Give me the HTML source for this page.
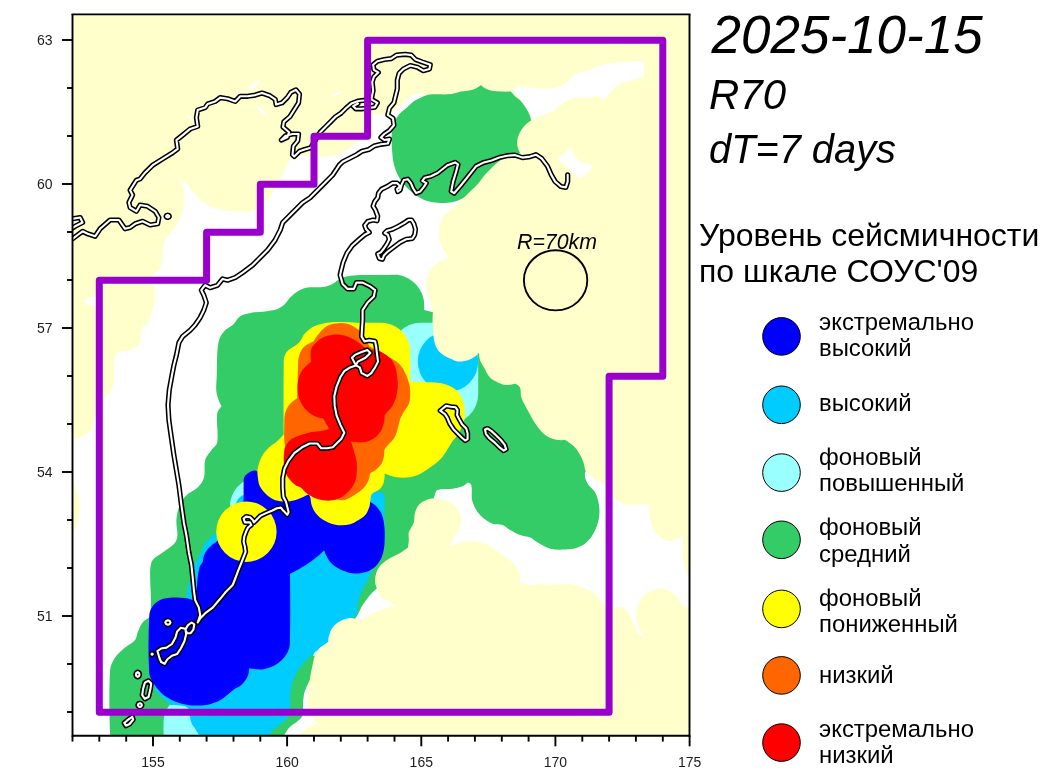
<!DOCTYPE html>
<html lang="ru"><head><meta charset="utf-8"><title>2025-10-15 R70</title>
<style>
html,body{margin:0;padding:0;background:#fff;}
body{width:1042px;height:779px;overflow:hidden;}
svg{display:block;font-family:"Liberation Sans",Arial,sans-serif;}
.tk{font-size:14px;fill:#1c1c1c;}
.lg{font-size:23.9px;fill:#000;}
.ttl{font-style:italic;fill:#000;}
</style></head><body>
<svg width="1042" height="779" viewBox="0 0 1042 779">
<rect width="1042" height="779" fill="#fff"/>
<defs><clipPath id="mc"><rect x="72.5" y="14" width="617.0" height="721.5"/></clipPath></defs>
<g clip-path="url(#mc)">
<rect x="72.5" y="14" width="617.0" height="721.5" fill="#ffffcc"/>
<path d="M167.5 170 C170.4 171.9 176.1 175.7 180.1 178.8 C183.6 181.5 187.1 184.4 190.1 187.6 C193.3 191.1 195.3 195.6 198.8 198.8 C202.1 201.9 206.0 204.4 210.1 206.3 C214.8 208.4 220.0 209.7 225.1 210.6 C230.0 211.5 235.1 211.9 240.1 211.8 C245.1 211.7 250.4 212.0 255.1 210.1 C259.5 208.3 263.1 204.8 266.4 201.3 C269.9 197.6 272.5 193.2 275.1 188.8 C277.5 184.8 279.3 180.5 281.4 176.3 C283.9 171.3 286.1 166.1 288.9 161.3 C290.3 159.0 292.7 156.3 293.9 155 L317 156.2 C319.0 156.4 323.1 156.8 326.2 156.7 C329.3 156.6 332.4 156.3 335.4 155.5 C338.6 154.6 341.8 153.2 344.7 151.6 C347.5 150.1 349.8 148.0 352.4 146.2 C355.0 144.4 357.4 142.4 360.1 140.8 C362.0 139.6 364.8 138.3 366.2 137.7 L370.9 115.4 C372.6 115.2 376.0 114.9 378.6 114.6 C381.2 114.4 383.7 114.2 386.3 113.9 C387.8 113.7 389.5 113.7 390.9 113.1 C393.1 112.2 395.1 110.8 397 109.3 C399.3 107.5 401.1 105.2 403.2 103.1 C405.3 101.0 407.1 98.7 409.4 96.9 C410.7 95.8 412.4 95.2 414 94.6 C415.5 94.1 417.0 93.6 418.6 93.6 C421.1 93.6 424.4 94.3 426 94.6 L440 110 L440 150 L464.7 197 L470 205 L470 330 L230 330 L230 735.5 L72.5 735.5 L72.6 533.9 C73.9 531.5 76.5 526.7 77.6 522.7 C78.9 517.8 79.6 512.7 79.6 507.6 C79.6 502.6 79.0 497.5 77.6 492.6 C76.6 489.0 73.9 484.7 72.6 482.6 L72.6 439.6 C73.2 439.4 74.3 439.1 75.1 438.8 C78.4 437.6 82.1 437.0 85.1 435.1 C88.1 433.2 90.8 430.7 92.6 427.6 C94.3 424.6 93.9 420.8 95.1 417.6 C97.3 411.6 99.3 405.5 102.6 400 C104.4 397.0 108.4 395.6 110.1 392.5 C112.2 388.7 113.4 384.3 113.9 380 C114.7 373.4 113.9 366.7 113.9 360 C113.9 359.9 113.9 360.3 113.9 360.2 C115.2 357.7 115.2 354.2 117.6 352.7 C121.2 350.5 126.2 351.9 130.1 350.2 C133.9 348.5 138.1 346.3 140.1 342.7 C142.2 339.1 139.9 334.1 141.4 330.2 C142.5 327.1 146.0 325.4 147.6 322.6 C149.8 318.7 151.4 314.4 152.7 310.1 C153.9 306.0 155.0 301.8 155.2 297.6 C155.4 293.4 154.4 289.3 153.9 285.1 C153.6 282.2 151.7 279.1 152.7 276.3 C154.0 272.7 158.6 271.1 160.2 267.6 C162.0 263.8 161.9 259.3 162.7 255.1 C163.6 250.1 163.1 244.7 165.2 240.1 C167.4 235.2 172.5 232.1 175.2 227.5 C178.4 222.0 181.1 216.1 182.7 210 C184.0 205.2 184.3 200.0 183.9 195 C183.5 189.9 183.0 184.3 180.2 180 C177.2 175.5 170.7 171.8 167.5 170Z" fill="#ffffff"/>
<path d="M83 301.5 C84.5 300.5 87.5 298.4 90 297.5 C92.2 296.7 95.4 296.6 97 296.5 L97 307 C95.4 306.8 92.2 306.4 90 305.5 C87.5 304.5 84.5 302.5 83 301.5Z" fill="#ffffff"/>
<path d="M186.4 115.1 C187.6 115.4 190.0 116.0 191.4 117.1 C193.2 118.6 194.9 121.3 195.7 122.6 C195.0 122.2 193.6 121.4 192.7 120.6 C190.5 118.9 187.8 116.4 186.4 115.1Z" fill="#ffffff"/>
<path d="M246.3 89.3 C247.6 88.0 250.2 85.3 252.5 83.8 C254.8 82.2 258.3 80.8 260 80.1 C259.6 81.3 258.8 83.7 257.5 85.1 C255.8 87.0 253.7 88.7 251.3 89.6 C249.7 90.2 247.4 89.6 246.3 89.3Z" fill="#ffffff"/>
<path d="M255 103.9 C256.5 104.7 259.5 106.3 261.3 108.1 C263.7 110.5 266.2 114.4 267.5 116.4 C266.0 115.7 263.0 114.3 261.3 112.6 C258.8 110.1 256.3 106.0 255 103.9Z" fill="#ffffff"/>
<path d="M331.3 95.6 C332.7 94.8 335.4 93.3 337.6 92.6 C339.2 92.1 341.5 92.1 342.6 92.1 C341.6 92.9 339.5 94.5 337.6 95.1 C335.6 95.7 332.7 95.6 331.3 95.6Z" fill="#ffffff"/>
<path d="M511.3 91.6 C513.1 90.1 516.7 87.0 520 86.3 C523.3 85.6 526.7 87.2 530.1 87.6 C534.3 88.1 538.4 88.8 542.6 88.8 C546.8 88.8 551.0 88.5 555.1 87.6 C558.6 86.8 562.1 85.7 565.1 83.8 C567.6 82.3 569.2 79.7 571.3 77.6 C572.6 76.3 574.3 74.6 575.1 73.8 C577.3 73.3 581.8 72.3 585.1 71.3 C588.5 70.2 591.8 68.8 595.1 67.6 C598.4 66.3 601.6 64.5 605.1 63.8 C610.0 62.8 615.1 63.0 620.1 62.6 C625.1 62.2 630.2 61.6 635.2 61.3 C638.1 61.1 642.0 61.2 643.9 61.3 L643.9 77.6 C643.1 77.5 641.4 77.3 640.2 77.6 C636.8 78.5 633.6 80.3 630.2 81.3 C626.9 82.3 623.2 82.2 620.1 83.8 C617.2 85.3 614.9 87.8 612.6 90.1 C609.9 92.8 607.8 96.1 605.1 98.8 C604.4 99.5 603.2 99.9 602.6 100.1 C601.6 98.9 599.7 96.6 597.6 96.3 C594.3 95.7 591.0 97.4 587.6 97.6 C584.3 97.8 580.9 97.2 577.6 97.6 C574.2 98.0 570.7 98.6 567.6 100.1 C563.9 102.0 561.0 105.2 557.6 107.6 C555.2 109.3 552.8 111.3 550.1 112.6 C547.7 113.8 545.0 114.1 542.6 115.1 C538.7 116.7 533.8 119.3 531.3 120.6 C530.6 118.2 529.2 113.4 527.5 110.1 C525.4 106.1 523.0 102.2 520 98.8 C517.5 96.0 513.4 93.1 511.3 91.6Z" fill="#ffffff"/>
<path d="M557.6 158.9 C559.0 157.8 561.8 155.7 563.8 153.9 C566.0 151.9 568.7 149.0 570.1 147.6 C571.0 149.7 572.9 153.8 575.1 156.4 C577.2 158.9 579.6 161.3 582.6 162.7 C586.1 164.3 591.3 164.9 593.9 165.2 C592.6 166.9 589.9 170.4 587.6 172.7 C585.3 175.0 581.8 177.6 580.1 178.9 C578.4 177.6 575.0 174.9 572.6 172.7 C570.0 170.3 567.7 167.6 565.1 165.2 C562.7 163.0 559.3 160.3 557.6 158.9Z" fill="#ffffff"/>
<polygon points="400,470 689.5,470 689.5,660 400,660" fill="#ffffff" />
<polygon points="275,700 330,700 330,735.5 275,735.5" fill="#ffffff" />
<polygon points="300,670 315,670 315,712 300,712" fill="#ffffff" />
<polygon points="355,585 400,585 400,625 355,625" fill="#ffffff" />
<path d="M391.9 147 C391.6 141.9 391.4 136.7 391.9 131.6 C392.2 128.3 393.1 125.0 394.4 122 C395.6 119.2 397.2 116.6 399.2 114.3 C401.4 111.7 404.3 109.8 406.9 107.5 C409.5 105.3 411.8 102.7 414.6 100.8 C417.0 99.2 419.6 98.0 422.3 96.9 C424.8 95.9 427.3 94.9 430 94.6 C437.0 93.9 444.2 94.8 451.2 94.1 C454.5 93.8 457.6 92.3 460.8 91.6 C464.0 91.0 467.3 90.9 470.5 90.2 C472.5 89.8 474.4 89.2 476.2 88.3 C478.0 87.4 480.1 85.8 481.1 85 C481.9 85.8 483.4 87.5 484.9 88.3 C487.0 89.5 489.3 90.3 491.6 90.8 C494.8 91.4 498.1 91.5 501.3 91.6 C504.5 91.7 508.8 91.6 510.9 91.6 C511.7 92.6 513.3 94.7 514.7 96 C516.5 97.7 518.8 99.0 520.5 100.8 C522.7 103.2 524.6 105.8 526.3 108.5 C527.8 110.9 529.0 113.5 530.1 116.2 C530.6 117.5 530.9 119.4 531.1 120.4 C530.0 121.1 527.7 122.5 526.3 123.9 C524.5 125.6 522.9 127.6 521.5 129.7 C520.1 131.8 519.0 134.0 518.2 136.4 C517.5 138.6 517.1 140.8 517.1 143.1 C517.1 145.1 517.6 147.0 518.2 148.9 C518.7 150.4 519.9 152.3 520.5 153.2 C519.2 153.5 516.6 154.2 514.7 154.7 C513.4 155.0 512.1 155.3 510.9 155.7 C508.3 156.6 505.6 157.2 503.2 158.5 C500.4 160.1 497.9 162.2 495.5 164.3 C493.4 166.1 491.6 168.2 489.7 170.1 C487.8 172.0 485.7 173.8 483.9 175.9 C481.8 178.3 480.3 181.2 478.2 183.6 C475.8 186.3 473.1 188.7 470.5 191.3 C468.6 193.2 466.0 195.7 464.7 197 C463.0 198.0 459.7 200.0 457 200.9 C453.9 201.9 450.6 202.5 447.4 202.8 C444.2 203.1 440.9 203.1 437.7 202.8 C434.5 202.5 431.2 202.2 428.1 201.3 C424.7 200.3 421.5 198.8 418.5 197 C415.7 195.4 413.2 193.4 410.8 191.3 C408.1 188.9 405.3 186.5 403.1 183.6 C400.8 180.6 398.9 177.3 397.3 173.9 C395.6 170.2 394.3 166.4 393.5 162.4 C392.5 157.3 392.2 152.2 391.9 147Z" fill="#33cc66"/>
<path d="M440 313 L432 312 L424.2 310 C424.2 308.0 424.3 304.0 423.9 301 C423.5 298.4 422.9 295.7 421.8 293.3 C420.5 290.5 418.9 287.9 416.9 285.6 C414.7 283.0 412.1 280.7 409.2 278.9 C406.3 277.1 403.0 275.9 399.6 275.2 C396.5 274.6 393.3 275.0 390.2 275 C385.2 275.0 380.1 275.1 375.1 275.1 C370.1 275.1 365.1 274.9 360.1 275.1 C355.9 275.3 351.7 275.5 347.6 276.3 C345.0 276.8 342.5 277.6 340.1 278.8 C337.4 280.2 335.3 282.6 332.6 283.9 C329.4 285.4 326.1 286.6 322.6 287.1 C317.7 287.8 312.5 286.8 307.6 287.6 C304.1 288.2 300.7 289.6 297.6 291.4 C294.8 293.0 292.4 295.3 290.1 297.6 C288.2 299.5 287.0 302.1 285 303.9 C282.8 305.9 280.3 307.8 277.5 308.9 C273.5 310.4 269.2 310.8 265 311.4 C260.9 312.0 256.6 311.8 252.5 312.6 C248.2 313.5 243.7 314.1 240 316.4 C236.8 318.4 235.5 322.5 232.7 325.1 C230.1 327.5 226.4 328.7 224 331.4 C221.7 333.9 219.9 337.0 219 340.2 C217.6 345.0 217.5 350.2 217.2 355.2 C216.8 361.8 216.9 368.4 216.8 375 C216.7 380.8 215.6 386.7 216.5 392.5 C217.2 397.3 220.1 403.3 221.5 406.3 C220.2 407.8 217.5 410.9 217.2 413.8 C216.1 423.3 218.7 433.1 217.2 442.6 C216.7 445.7 213.3 447.5 211.5 450.1 C209.3 453.3 206.2 456.3 205.2 460.1 C203.7 465.7 205.5 472.0 204 477.6 C203.0 481.4 200.5 484.8 197.7 487.6 C194.1 491.2 188.7 492.7 185.2 496.4 C182.3 499.5 180.4 503.6 178.9 507.6 C177.4 511.6 176.7 515.9 176.4 520.2 C175.9 526.8 179.0 534.1 176.4 540.2 C174.0 545.8 167.4 548.6 162.7 552.5 C159.5 555.2 155.1 556.6 152.7 560 C150.7 562.8 150.4 566.6 150.2 570 C149.5 585.0 152.3 600.2 150.2 615.1 C149.7 618.6 144.7 619.7 142.6 622.6 C140.4 625.6 139.1 629.2 137.6 632.6 C136.6 635.0 136.8 638.1 135.1 640.1 C132.4 643.3 128.2 644.9 125.1 647.6 C121.6 650.7 117.7 653.7 115.1 657.6 C112.6 661.3 110.4 665.6 110.1 670.1 C108.7 691.9 109.6 721.0 110.1 735.5 L284 735.5 C285.1 733.5 287.4 729.5 289.8 727 C292.0 724.7 295.1 723.4 297.5 721.3 C299.4 719.6 301.7 717.9 302.5 715.5 C303.6 712.2 302.8 708.6 303 705.2 C303.2 701.9 303.2 698.5 303.8 695.2 C304.3 692.6 305.2 690.0 306.3 687.6 C310.6 678.3 316.9 666.1 320 660 L355.1 618.8 C355.7 618.0 356.9 616.4 357.6 615.1 C359.4 611.8 360.6 608.3 362.6 605.1 C364.8 601.6 367.4 598.3 370.1 595.1 C372.0 592.8 374.1 590.7 376.4 588.8 C384.1 582.3 394.7 574.1 400 570 L420 540 L430 510 L435.1 493.8 C435.4 492.7 436.1 490.4 437.6 490 C442.4 488.6 447.6 489.5 452.6 488.8 C456.0 488.3 459.4 487.6 462.6 486.3 C464.5 485.5 466.6 483.5 467.6 482.5 C468.7 482.9 470.9 483.6 471.3 485 C472.5 489.9 471.1 495.2 472.1 500.1 C472.8 503.6 474.4 507.0 476.3 510.1 C478.0 512.9 480.1 515.5 482.6 517.6 C485.6 520.1 488.9 522.4 492.6 523.8 C495.7 525.0 499.4 524.0 502.6 525.1 C505.4 526.1 507.5 528.6 510.1 530.1 C513.3 531.9 516.6 533.8 520.1 535.1 C523.3 536.3 527.0 536.2 530.2 537.6 C533.0 538.8 535.1 541.1 537.7 542.6 C541.8 544.9 545.7 547.7 550.2 548.8 C555.1 550.0 560.2 549.8 565.2 549.6 C569.4 549.4 573.7 549.1 577.7 547.6 C581.4 546.2 584.9 544.1 587.7 541.3 C590.9 538.1 593.3 534.2 595.2 530.1 C597.1 526.2 598.3 521.9 599 517.6 C599.6 513.5 599.6 509.2 599 505.1 C598.3 500.8 597.3 496.4 595.2 492.5 C593.4 489.1 589.4 487.2 587.7 483.8 C586.0 480.3 583.9 476.1 585.2 472.5 C588.3 464.1 596.1 454.7 600 450 L600 330 L440 330 L440 313Z" fill="#33cc66"/>
<path d="M163.7 735.5 C163.6 731.9 163.3 724.7 163.7 719.3 C163.9 716.7 164.6 714.1 165.6 711.7 C166.6 709.3 167.9 706.9 169.5 704.9 C171.0 703.0 173.7 701.0 175 700 L210 700 L210 735.5 L163.7 735.5Z" fill="#99ffff"/>
<path d="M230.2 510 C230.2 508.8 230.1 506.3 230.2 504.4 C230.3 502.7 230.3 501.0 230.8 499.3 C231.4 497.1 232.3 494.9 233.4 492.8 C234.5 490.8 235.7 488.8 237.2 487.1 C238.7 485.4 240.6 484.0 242.4 482.6 C243.6 481.6 244.8 480.7 246.2 480 C248.0 479.1 250.7 478.4 252 478 L260 500 L250 515 L230.2 510Z" fill="#99ffff"/>
<path d="M199.5 570 C199.4 567.1 199.3 561.3 200 557 C200.4 554.5 202.1 551.5 203 550 L210 560 L199.5 570Z" fill="#99ffff"/>
<polygon points="421,353 447,353 448,362 448,394 421,394" fill="#99ffff" stroke="#99ffff" stroke-width="60.4" stroke-linejoin="round"/>
<path d="M313 656 C313.8 653.8 315.4 649.3 318 647 C321.0 644.3 326.3 642.8 329 642 L332 655 L313 656Z" fill="#99ffff"/>
<circle cx="448" cy="361.6" r="30.2" fill="#00ccff"/>
<path d="M186.4 597.6 C187.5 594.4 187.1 590.8 187.7 587.5 C188.3 584.1 189.2 580.8 190.2 577.5 C191.3 573.6 192.4 569.7 194 566 C195.7 562.0 198.1 558.4 200 554.5 C201.0 552.4 201.6 550.1 202.6 548 C203.7 545.8 204.9 543.6 206.4 541.6 C207.9 539.7 209.8 538.2 211.6 536.5 C213.0 535.2 214.5 533.8 216 532.6 C218.9 530.3 223.0 527.4 225 526 L236 503 C236.7 501.5 238.2 498.6 240 497 C241.7 495.5 244.6 494.5 246 494 L300 500 C312.0 497.9 335.9 493.6 354 491.6 C361.6 490.8 369.4 491.0 377 491.6 C379.4 491.8 383.1 491.7 383.8 494 C385.9 501.0 384.2 508.7 384.3 516 C384.4 525.7 385.3 535.4 384.3 545 C383.9 548.6 381.6 551.7 380.1 555 C378.5 558.4 376.8 561.7 375.1 565 C373.4 568.3 371.8 571.7 370.1 575 C368.4 578.3 366.8 581.7 365.1 585 C363.4 588.4 361.4 591.6 360.1 595.1 C358.9 598.3 358.2 601.7 357.6 605.1 C357.0 608.4 358.1 612.2 356.4 615.1 C355.2 617.1 351.8 617.8 350.1 618.1 L340 625 L330 640 C328.3 641.4 325.0 644.2 322.5 646.2 C320.0 648.2 317.3 650.0 314.8 652 C313.4 653.2 312.2 654.5 310.9 655.8 C308.3 658.4 305.6 660.8 303.2 663.5 C301.1 665.9 299.2 668.5 297.5 671.2 C296.0 673.6 294.7 676.2 293.6 678.9 C292.6 681.4 291.8 684.0 291.3 686.6 C290.7 689.8 290.4 693.0 290.2 696.2 C290.0 700.1 290.5 703.9 290.2 707.8 C290.0 710.4 289.9 713.1 288.8 715.5 C287.8 717.8 285.8 719.6 284 721.3 C281.6 723.5 278.7 724.9 276.3 727 C274.2 728.8 272.5 730.9 270.5 732.8 C269.6 733.7 268.3 734.9 267.6 735.5 L199.3 735.5 C198.4 734.0 196.7 731.1 195.4 729 C194.2 727.0 192.5 725.3 191.6 723.2 C190.6 720.8 190.3 718.1 189.7 715.5 C189.0 712.9 189.5 709.7 187.7 707.8 C185.8 705.9 182.6 705.9 180 705.5 C176.8 705.0 172.5 704.9 170.4 704.9 C169.6 704.0 167.9 702.3 166.6 701.1 C164.1 698.8 161.2 696.9 158.9 694.3 C156.6 691.7 154.5 688.8 153.1 685.7 C151.5 682.3 150.5 677.4 150 675 L170 640 C173.9 630.7 181.6 612.0 186.4 597.6Z" fill="#00ccff"/>
<path d="M243.6 480 L243.6 501 L225 530 C223.3 532.7 219.8 538.0 216.7 541.6 C215.7 542.8 214.0 543.2 212.8 544.2 C211.0 545.8 209.2 547.4 207.7 549.3 C206.2 551.3 204.8 553.4 203.9 555.7 C203.1 557.8 203.4 560.1 202.6 562.2 C202.1 563.6 200.5 564.5 200 566 C198.8 569.7 198.3 573.6 197.7 577.5 C197.1 581.6 197.3 585.9 196.4 590 C195.6 593.5 193.7 597.8 192.7 600 C191.1 599.4 187.8 598.3 185.2 598 C181.1 597.5 176.9 597.3 172.7 597.6 C168.5 597.9 164.1 598.3 160.2 600 C157.2 601.3 154.6 603.6 152.7 606.3 C150.8 608.9 149.5 612.0 149.3 615.2 C148.3 634.4 148.1 653.8 149.2 673 C149.4 676.5 151.3 679.8 153.1 682.8 C155.2 686.3 157.9 689.5 160.8 692.4 C163.1 694.7 165.8 696.5 168.5 698.2 C170.9 699.7 173.5 701.1 176.2 702 C179.9 703.3 183.8 704.3 187.7 704.9 C191.5 705.5 195.4 705.7 199.3 705.5 C203.2 705.3 207.0 704.9 210.8 703.9 C214.2 703.0 217.5 701.8 220.5 700.1 C223.3 698.5 225.7 696.3 228.2 694.3 C230.1 692.8 231.9 690.9 233.9 689.5 C236.4 687.7 239.4 686.8 241.6 684.7 C244.0 682.5 246.0 679.9 247.4 677 C248.7 674.3 249.1 670.3 249.3 668.3 C251.0 668.6 254.4 669.2 257 669.3 C259.6 669.4 262.2 669.5 264.7 668.9 C268.1 668.1 271.4 667.0 274.4 665.4 C277.2 663.9 279.8 662.0 282.1 659.7 C284.4 657.4 286.4 654.9 287.8 652 C289.0 649.6 289.7 647.0 289.8 644.3 C290.5 620.8 290.2 589.5 290 573.8 C292.3 572.7 296.8 570.5 300 568.6 C304.0 566.2 307.8 563.6 311.6 560.9 C314.2 559.1 316.8 557.2 319.3 555.1 C321.0 553.6 323.1 551.4 324.1 550.3 C324.5 551.4 325.2 553.6 326 555.1 C327.4 557.8 328.7 560.6 330.8 562.8 C333.0 565.2 335.7 567.0 338.5 568.6 C341.5 570.3 344.8 571.6 348.2 572.4 C351.3 573.2 354.6 573.6 357.8 573.4 C361.1 573.2 364.4 572.7 367.4 571.5 C370.2 570.4 372.9 568.8 375.1 566.7 C377.5 564.5 379.5 561.9 380.9 559 C382.4 556.0 383.1 552.7 383.8 549.4 C384.3 546.9 384.5 544.3 384.6 541.7 C384.7 537.1 384.9 532.5 384.5 528 C384.1 523.6 383.6 519.1 382 515 C380.7 511.6 378.4 508.7 376 506 C374.4 504.3 371.7 502.8 370.3 502 L320 490 L257.5 471.4 C256.7 471.0 255.1 470.3 253.8 470.4 C252.4 470.5 251.2 471.3 250 472 C248.2 473.1 246.3 474.3 245 476 C244.1 477.1 243.8 479.0 243.6 480Z" fill="#0000ff"/>
<circle cx="246.4" cy="531.7" r="30.2" fill="#ffff00"/>
<path d="M283.7 363.5 C283.7 360.9 283.7 358.2 284.6 355.8 C285.4 353.6 286.8 351.6 288.5 350 C290.1 348.4 292.4 347.6 294.3 346.2 C296.3 344.7 298.4 343.3 300 341.4 C301.7 339.4 302.3 336.7 303.9 334.6 C305.6 332.5 307.5 330.5 309.7 328.9 C312.0 327.2 314.7 326.0 317.4 325 C320.5 323.9 323.7 323.1 327 322.7 C331.5 322.1 336.0 322.1 340.5 322.1 C346.3 322.1 352.0 322.6 357.8 322.7 C362.9 322.8 368.1 322.6 373.2 322.7 C377.0 322.8 380.9 322.5 384.7 323.1 C388.0 323.6 391.4 324.5 394.4 326 C397.3 327.4 399.8 329.5 402.1 331.8 C404.0 333.7 405.6 336.1 406.9 338.5 C408.2 340.9 409.3 343.5 409.8 346.2 C410.4 350.0 410.2 353.9 410.2 357.7 C410.3 365.6 410.2 376.2 410.2 381.5 C412.4 381.6 416.9 381.8 420.2 382 C426.9 382.3 433.6 381.9 440.2 383 C444.6 383.7 448.9 385.2 452.7 387.5 C455.7 389.3 458.3 392.0 460.2 395 C462.1 398.0 463.3 401.5 464 405 C464.8 409.1 465.0 413.4 464.7 417.6 C464.5 420.2 463.7 422.7 462.7 425.1 C461.3 428.6 459.7 431.9 457.7 435.1 C456.3 437.3 454.2 438.9 452.7 441 C450.4 444.3 448.5 447.9 446.3 451.2 C444.5 453.8 442.8 456.6 440.6 458.9 C438.3 461.4 435.6 463.4 432.9 465.5 C431.1 467.0 429.1 468.2 427.1 469.5 C424.6 471.2 422.2 473.1 419.4 474.3 C416.3 475.7 413.1 476.8 409.8 477.2 C405.3 477.8 400.8 477.9 396.3 477.2 C392.3 476.6 387.2 474.5 384.7 473.5 C384.7 475.4 384.6 479.3 383.8 482 C383.0 484.5 381.9 487.1 380 489 C377.8 491.2 374.0 491.5 372 494 C370.5 495.9 370.8 498.8 370.3 501.2 C369.9 503.1 370.0 505.2 369.3 507 C368.3 509.7 367.4 512.5 365.5 514.7 C363.4 517.1 360.5 518.8 357.8 520.5 C355.4 522.0 352.9 523.5 350.1 524.3 C347.0 525.2 343.7 525.4 340.5 525.3 C337.2 525.1 333.9 524.5 330.8 523.4 C327.4 522.2 324.2 520.5 321.2 518.5 C319.0 517.0 317.0 515.0 315.4 512.8 C313.7 510.5 312.5 507.8 311.6 505.1 C310.8 502.6 311.0 499.9 310.3 497.4 C310.0 496.3 309.0 495.1 308.5 494.5 C307.1 495.2 304.2 496.5 302 497.4 C298.8 498.6 295.6 500.1 292.3 500.8 C289.2 501.5 285.9 501.9 282.7 501.6 C279.4 501.3 276.1 500.7 273.1 499.3 C270.2 497.9 267.7 495.8 265.4 493.5 C263.1 491.2 260.9 488.7 259.6 485.8 C258.3 482.8 258.1 479.4 257.7 476.2 C257.4 473.6 257.2 471.0 257.7 468.5 C258.5 464.5 259.6 460.5 261.5 456.9 C263.5 453.3 266.3 450.2 269.2 447.3 C271.5 445.0 274.5 443.6 276.9 441.5 C279.3 439.3 282.2 436.1 283.7 434.5 C283.6 418.7 283.4 387.2 283.7 363.5Z" fill="#ffff00"/>
<path d="M298.1 363.5 C298.2 360.9 298.3 358.3 299.1 355.8 C300.0 353.1 301.2 350.4 302.9 348.1 C304.1 346.5 306.0 345.4 307.7 344.3 C309.5 343.1 312.2 342.0 313.5 341.4 C314.3 340.1 316.0 337.4 317.4 335.6 C319.2 333.3 320.8 330.8 323.1 328.9 C325.4 327.0 328.0 325.5 330.8 324.6 C333.9 323.6 337.2 323.2 340.5 323.1 C343.1 323.0 345.7 323.3 348.2 324.1 C350.9 325.0 353.5 326.4 355.9 327.9 C357.7 329.0 359.3 330.3 360.7 331.8 C362.5 333.8 364.1 336.1 365.5 338.5 C367.0 341.0 368.5 344.5 369.3 346.2 L385 355 C387.6 356.3 392.8 359.0 396.3 361.6 C398.5 363.2 400.5 365.1 402.1 367.4 C404.1 370.3 405.6 373.7 406.9 377 C408.1 380.1 409.2 383.3 409.8 386.6 C410.3 389.8 410.4 393.0 410.2 396.2 C410.0 398.8 409.8 401.5 408.8 403.9 C407.7 406.7 405.5 409.0 404 411.6 C402.6 414.1 401.1 416.6 400.1 419.3 C399.2 421.8 399.0 424.5 398.2 427 C397.1 430.6 396.2 434.4 394.4 437.7 C393.0 440.3 390.5 442.1 388.6 444.4 C387.3 446.0 385.4 447.3 384.7 449.2 C383.8 451.6 384.4 454.4 383.8 456.9 C383.1 459.6 382.4 462.3 380.9 464.6 C379.4 466.9 377.2 468.7 375.1 470.4 C373.7 471.6 371.4 471.8 370.3 473.3 C369.3 474.6 369.9 476.6 369.3 478.1 C368.3 480.8 367.2 483.5 365.5 485.8 C363.9 488.0 361.9 489.9 359.7 491.6 C357.3 493.5 354.7 495.0 352 496.4 C348.9 498.0 345.9 500.5 342.4 500.3 C334.7 500.0 324.9 496.7 320 495 L290 470 L284.3 441.5 C284.2 437.4 284.1 429.3 284.3 423.2 C284.4 420.0 284.2 416.7 285 413.6 C285.7 410.9 286.9 408.2 288.5 405.9 C289.8 404.0 291.6 402.6 293.3 401.1 C294.5 400.0 296.3 398.8 297.2 398.2 C297.3 394.3 297.5 386.6 297.7 380.8 C297.8 375.0 297.8 369.3 298.1 363.5Z" fill="#ff6600"/>
<path d="M311.6 348.1 C312.9 345.4 315.2 343.3 317.4 341.4 C319.7 339.4 322.3 337.7 325.1 336.6 C328.1 335.4 331.4 334.8 334.7 334.6 C337.9 334.4 341.2 334.9 344.3 335.6 C347.0 336.2 349.5 337.3 352 338.5 C354.7 339.9 357.2 341.5 359.7 343.3 C361.7 344.8 363.3 346.9 365.5 348.1 C367.3 349.1 369.3 349.4 371.3 349.7 C373.2 350.0 375.2 349.4 377 350 C379.7 350.9 382.3 352.3 384.7 353.9 C387.2 355.6 389.7 357.4 391.5 359.7 C393.3 362.0 394.4 364.7 395.3 367.4 C396.3 370.5 396.9 373.8 397.3 377 C397.7 380.2 398.0 383.4 397.8 386.6 C397.6 389.8 397.2 393.1 396.3 396.2 C395.4 399.6 394.1 402.9 392.4 405.9 C391.2 408.1 389.2 409.7 387.6 411.6 C386.6 412.9 385.3 414.6 384.7 415.5 C384.6 417.2 384.4 420.7 383.8 423.2 C383.1 425.9 382.3 428.6 380.9 430.9 C379.4 433.4 377.4 435.8 375.1 437.6 C372.8 439.4 370.1 440.6 367.4 441.5 C364.9 442.3 362.3 442.4 359.7 442.4 C356.8 442.4 352.9 441.8 351 441.5 C351.7 443.6 353.1 447.9 354 451.2 C355.0 455.0 356.3 458.8 356.8 462.7 C357.2 465.9 357.1 469.1 356.8 472.3 C356.5 475.6 356.1 478.9 354.9 482 C353.8 484.8 352.1 487.4 350.1 489.7 C347.9 492.3 345.3 494.6 342.4 496.4 C339.5 498.2 336.2 499.6 332.8 500.3 C329.6 500.9 326.3 500.8 323.1 500.3 C319.8 499.8 316.6 498.8 313.5 497.4 C310.7 496.2 308.2 494.5 305.8 492.6 C304.0 491.2 302.9 489.0 301 487.7 C299.6 486.7 297.3 486.1 296.2 485.8 C294.3 484.2 290.6 481.1 288.5 478.1 C286.5 475.2 284.8 472.0 284.3 468.5 C283.4 462.4 283.7 456.1 284.3 450 C284.5 448.0 285.4 446.1 286.6 444.4 C288.2 442.2 290.0 440.0 292.3 438.6 C295.2 436.7 298.7 435.8 302 434.7 C305.1 433.6 308.3 432.5 311.6 431.9 C314.8 431.3 318.0 431.4 321.2 430.9 C323.8 430.5 327.2 429.5 328.9 429 C328.5 428.1 327.7 426.4 327 425.1 C325.8 422.8 324.0 419.9 323.1 418.4 C321.3 418.1 317.8 417.6 315.4 416.5 C312.6 415.3 310.0 413.6 307.7 411.6 C305.8 410.0 304.2 408.0 302.9 405.9 C301.4 403.5 300.0 400.9 299.1 398.2 C298.3 395.7 297.8 393.1 297.7 390.5 C297.5 387.3 297.5 384.0 298.1 380.8 C298.6 377.8 299.6 374.9 301 372.2 C302.2 370.0 304.1 368.2 305.8 366.4 C307.5 364.7 310.0 362.6 311.2 361.6 C311.0 360.3 310.5 357.7 310.6 355.8 C310.7 353.2 310.5 350.4 311.6 348.1Z" fill="#ff0000"/>
<path d="M464.7 197 C463.0 198.8 459.7 202.3 457 204.7 C453.9 207.4 450.5 209.7 447.4 212.4 C445.7 213.9 443.7 215.4 442.7 217.5 C440.8 221.5 439.4 225.7 439 230.1 C438.6 234.3 439.1 238.6 440.2 242.6 C441.2 246.2 443.3 249.4 445.2 252.6 C446.3 254.4 448.1 256.5 449 257.6 C446.3 258.4 441.0 260.1 437.7 262.6 C434.1 265.3 430.9 268.6 428.9 272.6 C427.0 276.4 426.4 280.9 426.4 285.1 C426.4 289.3 427.9 293.5 428.9 297.6 C430.0 301.8 432.0 305.8 432.7 310.1 C433.2 313.1 432.5 316.2 432.5 319.2 C432.5 322.4 432.7 325.7 432.9 328.9 C433.1 332.1 433.3 335.3 433.8 338.5 C434.2 341.1 434.8 343.8 435.8 346.2 C436.7 348.3 438.1 350.3 439.6 352 C441.0 353.5 442.7 354.7 444.4 355.8 C446.2 356.9 448.1 357.7 450 358.5 C452.5 359.6 455.0 361.1 457.7 361.4 C461.0 361.7 464.5 361.1 467.7 360.2 C470.4 359.4 472.9 357.9 475.2 356.4 C476.7 355.4 478.2 353.6 479 352.7 C479.1 354.4 479.2 357.7 480 360 C480.9 362.7 482.6 365.0 484 367.5 C485.9 370.9 487.4 374.6 490 377.5 C491.9 379.6 494.5 380.8 497 382 C499.5 383.3 502.2 384.7 505 385 C508.3 385.3 512.8 384.3 515 383.8 C516.4 384.4 519.1 385.6 520 387.5 C521.4 390.6 520.2 394.3 521.3 397.5 C522.8 401.9 525.3 405.9 527.5 410 C530.3 415.1 533.0 420.3 536.3 425.1 C538.8 428.7 541.6 432.4 545.1 435.1 C548.0 437.3 551.6 438.7 555.1 439.6 C558.3 440.4 562.8 440.2 565.1 440.1 C567.5 441.6 572.4 444.5 575.1 447.6 C578.3 451.3 580.6 455.7 582.6 460.1 C584.0 463.2 584.7 467.8 585.1 470.1 C586.7 471.9 589.8 475.4 592.6 477.6 C595.7 480.0 599.4 481.6 602.6 483.9 C604.0 484.9 605.2 486.3 606.4 487.6 C608.6 490.0 610.4 492.7 612.6 495.1 C615.0 497.7 617.0 500.9 620.1 502.6 C623.1 504.3 626.7 504.8 630.2 505.1 C634.4 505.5 638.5 504.6 642.7 504.6 C645.0 504.6 648.1 504.9 649.6 505 C649.6 508.2 649.6 514.5 650.4 519.1 C651.1 523.1 652.2 527.2 654.3 530.7 C656.2 533.8 658.9 536.5 662 538.4 C664.7 540.0 667.9 541.0 671 541 C673.7 541.0 676.2 539.5 678.7 538.4 C680.3 537.7 682.2 536.4 683.1 535.8 C682.9 538.4 682.4 543.5 682.5 547.4 C682.6 552.5 682.9 557.7 683.8 562.8 C684.5 566.8 685.7 570.6 687.2 574.4 C687.7 575.8 689.0 577.3 689.7 578 L689.7 200 L600 200 L464.7 197Z" fill="#ffffcc"/>
<path d="M299.4 735.5 C299.8 734.8 300.5 733.5 301.3 732.8 C303.7 730.7 306.2 728.6 309 727 C312.0 725.3 316.4 723.9 318.6 723.2 C317.3 722.2 314.6 720.2 312.9 718.4 C311.3 716.8 309.6 714.3 308.8 713 C308.7 711.8 308.4 709.5 308.2 707.7 C308.0 705.2 307.5 702.7 307.6 700.2 C307.7 696.0 308.3 691.8 308.8 687.6 C309.2 684.3 309.5 680.9 310.1 677.6 C310.8 673.4 311.7 669.2 312.6 665.1 C313.3 661.7 313.7 658.3 315.1 655.1 C316.3 652.3 318.0 649.7 320.1 647.6 C322.2 645.5 325.8 645.0 327.6 642.6 C328.9 640.9 328.1 638.3 328.8 636.3 C329.8 633.3 330.7 630.1 332.6 627.6 C334.6 625.0 337.2 622.9 340.1 621.3 C343.2 619.6 346.6 618.4 350.1 618.1 C353.5 617.8 356.8 620.1 360.1 619.6 C363.7 619.1 366.8 616.7 370.1 615.1 C373.5 613.5 376.6 611.3 380.1 610.1 C385.0 608.4 391.8 607.0 395.2 606.3 C394.1 605.4 391.9 603.7 390.2 602.6 C386.9 600.4 382.9 599.1 380.1 596.3 C378.5 594.7 378.4 592.2 377.6 590.1 C376.7 587.6 375.3 585.2 375.1 582.5 C374.9 579.1 375.3 575.7 376.4 572.5 C377.4 569.5 379.2 566.8 381.4 564.5 C383.9 561.9 387.1 559.9 390.2 558 C393.4 556.1 397.0 554.9 400.2 553 C402.9 551.4 406.3 548.9 408 547.6 C408.2 545.9 408.7 542.5 408.8 540 C408.9 537.5 408.1 535.0 408.8 532.6 C409.8 529.0 412.7 526.2 413.8 522.6 C414.8 519.4 413.9 515.8 415 512.6 C416.1 509.4 417.5 506.1 420 503.8 C422.8 501.3 426.5 499.7 430.1 498.8 C433.3 498.0 436.8 498.1 440.1 498.8 C444.5 499.8 448.9 501.3 452.6 503.8 C455.3 505.6 457.3 508.4 458.8 511.3 C460.2 514.0 461.3 517.1 461.3 520.1 C461.3 523.5 460.2 526.9 458.8 530.1 C457.2 533.7 454.2 536.5 452.6 540.1 C451.7 542.0 451.4 544.9 451.3 546.3 C453.2 545.3 457.0 543.3 460.1 542.6 C465.0 541.6 470.1 540.7 475.1 541.3 C480.3 541.9 485.4 543.9 490.1 546.3 C494.7 548.6 498.5 552.1 502.6 555.1 C506.0 557.5 509.8 559.6 512.6 562.6 C515.3 565.5 517.5 568.9 518.9 572.6 C520.1 575.7 520.1 580.3 520.1 582.6 C522.3 583.4 526.7 584.9 530.2 585.1 C534.4 585.3 538.5 583.9 542.7 583.9 C546.9 583.9 551.0 585.1 555.2 585.1 C560.2 585.1 565.2 583.6 570.2 583.9 C573.6 584.1 577.0 585.2 580.2 586.4 C584.5 588.1 588.9 590.0 592.7 592.6 C595.6 594.6 597.7 597.6 600.2 600.2 C602.2 602.3 604.7 605.1 606 606.5 C607.5 606.8 610.4 607.5 612.6 607.6 C615.9 607.8 619.5 606.3 622.6 607.6 C625.9 609.0 628.3 612.1 630.2 615.1 C632.1 618.1 632.4 621.9 633.9 625.1 C635.3 628.1 636.7 631.3 638.9 633.8 C640.1 635.2 642.6 635.9 643.9 636.3 C642.3 633.9 639.0 629.2 637.7 625.1 C636.4 621.1 636.0 616.8 636.4 612.6 C636.8 608.3 638.1 603.9 640.2 600.1 C641.9 597.0 644.6 594.3 647.7 592.6 C651.5 590.5 655.9 589.1 660.2 588.8 C663.6 588.6 667.1 589.8 670.2 591.3 C673.1 592.8 675.5 595.2 677.7 597.6 C679.7 599.8 680.4 603.2 682.7 605.1 C684.6 606.7 688.0 607.3 689.7 607.6 L689.7 735.5 L299.4 735.5Z" fill="#ffffcc"/>
<path d="M72.6 238.8 L77.6 235 L82.6 231.3 L87.6 233.8 L95.1 236.3 L100.1 228.8 L110.1 220 L118.9 220 L125.1 228.8 L130.1 227.5 L135.1 223.8 L142.6 221.3 L150.2 225 L157.7 223.8 L158.9 217.5 L155.2 211.3 L147.6 206.3 L140.1 205 L136.4 211.3 L130.1 207.5 L128.9 202.5 L132.6 195 L130.1 190.2 L136.4 180.2 L140.1 178.9 L145.1 172.7 L152.7 165.2 L162.7 158.9 L172.7 152.7 L177.7 148.9 L176.4 140.1 L182.7 135.1 L190.2 128.9 L197.7 126.4 L196.4 117.6 L197.7 110.1 L205.2 107.6 L207.7 103.9 L215.2 101.4 L220.2 97.6 L227.7 98.8 L235.2 101.4 L240.2 96.3 L247.7 96.3 L255.3 95.1 L262 93 L270 95.8 L275.2 99.3 L276.1 104.5 L282.1 102.8 L287.3 97.6 L290.8 92.4 L296 89.8 L299.5 94.1 L298.6 102.8 L294.3 109.7 L289.9 116.6 L283.9 121.8 L283 127 L289.1 132.2 L287.3 137.4 L281.3 140 L285.6 135.7 L292.5 134 L298.6 134 L297.7 140.9 L293.4 146.1 L292.5 154.7 L294.3 156.5 L299.5 151.3 L304.7 149.5 L310.7 147.8 L320.2 132.2 L325.4 127 L330.6 121.8 L335.8 116.6 L341 113.2 L346.2 108 L351.4 103.6 L358.4 101 L365.3 100.2 L371.4 99.3 L373.1 90.6 L372.2 82 L373.9 76.8 L378.3 72.4 L373.9 69.8 L373.1 64.7 L377.4 61.2 L384.3 59.5 L391.3 58.6 L396.5 55.1 L405.1 54.3 L411.2 55.1 L415.5 59.5 L422.5 62.1 L430.3 64.7 L429.4 69 L423.3 70.7 L417.3 67.2 L410.3 65.5 L403.4 69 L399.1 73.3 L397.3 80.2 L397.3 88.9 L395.6 95.8 L393.9 102.8 L389.5 108 L387.8 114.9 L393 118.4 L393.9 125.3 L389.5 130.5 L384.3 134 L380.9 137.4 L384.3 140 L389.5 139.1 L387.8 143.5 L380.9 144.3 L374 146.1 L368.8 149.5 L361.8 151.3 L356.6 154.7 L349.7 158.2 L342.8 161.7 L339.3 165 L337.7 167.5 L332.7 175 L325.2 182.6 L317.7 190.1 L310.2 197.6 L302.7 202.6 L297.7 207.6 L290.2 215.1 L282.7 222.6 L280.2 230.1 L275.1 240.1 L267.6 250.1 L260.1 257.6 L252.6 265.1 L242.6 272.6 L235.1 277.6 L227.6 280.2 L222.6 278.9 L217.6 285.2 L210.1 287.7 L205.1 285.2 L201.3 290.2 L203.8 295.2 L206.3 302.7 L203.8 310.2 L200.1 317.7 L195.1 325 L190.2 330.2 L182.7 336.4 L178.9 342.7 L176.4 355.2 L173.9 365.2 L172 375 L169.3 390 L168 405 L168.9 420.1 L171 435.1 L173.9 455.1 L176.4 470.1 L178.9 485.1 L181.4 505.1 L183.9 522.7 L186.4 535.2 L188.9 552.5 L191.4 565 L192.7 577.5 L193.9 590.1 L195.2 600.1 L198.9 607.6 L200.2 615.1 L197.7 622.5 L200.6 618 L206 612.6 L212.7 607.6 L220.2 598.8 L225.2 592.6 L232.7 585 L234.7 580 L238.5 569.9 L241.1 563.4 L243.6 557 L245.6 551.9 L244.9 546.8 L243.6 541.6 L244.3 536.5 L246.2 531.3 L248.1 527.5 L251.3 524.9 L250 522.4 L244.9 522.4 L243.6 518.5 L246.2 516.6 L250 517.2 L252.6 519.8 L253.9 522.4 L256.5 519.8 L260.3 515.9 L265.5 513.4 L271.9 510.8 L277 508.2 L280.9 507.6 L283.4 510.8 L287.3 514.7 L288.6 512.1 L287.3 507 L286 501.8 L283.4 496.7 L282.7 487.7 L282.7 478.1 L284.6 468.5 L288.5 460.8 L294.3 453.1 L302 447.3 L309.7 443.5 L317.4 443.5 L321.2 448.3 L327 448.3 L332.8 447.3 L336.6 443.5 L341.4 438.7 L344.3 432.8 L340.5 425.1 L336.6 415.5 L334.7 405.9 L334.3 396.2 L336.6 386.6 L340.5 377 L344.3 371.2 L350.1 367.4 L355.9 365.4 L359.7 367.4 L361.6 373.1 L367.4 376 L371.3 373.1 L375.1 367.4 L378 361.6 L377 353.9 L376.1 346.2 L375.1 341.4 L369.3 340.4 L364.5 341.4 L361.6 336.6 L362 328.9 L362.6 320.1 L362.6 310.1 L367.6 302.6 L373.9 296.4 L375.1 290.1 L370.1 286.4 L362.6 282.6 L356.4 282.6 L353.9 288.9 L347.6 288.9 L342.6 283.9 L340.1 275.1 L340.8 271.6 L343.1 262.4 L346.9 253.2 L352.3 245.5 L359.3 239.3 L364.7 234.7 L369.3 232.4 L366.2 229.3 L364.7 225.4 L367.7 221.6 L373.1 220 L377 220.8 L377.7 216.2 L375.4 210 L373.1 206.2 L374.7 201.6 L377.7 197.7 L378.5 193.1 L381.6 189.2 L387.8 186.2 L392.4 183.1 L397 183.1 L400.1 186.2 L397 189.2 L397.8 191.6 L400.1 190 L401.6 184.6 L403.9 180 L407.8 179.2 L410.9 183.1 L413.2 188.5 L416.2 193.1 L420.1 191.6 L423.9 186.9 L426.3 183.1 L422.4 180.8 L424.7 177.7 L430.9 176.2 L437.7 173 L447.4 165.3 L455.1 162.4 L458 164.3 L456 172 L453.1 181.6 L451.2 191.3 L454.1 193.2 L460.8 185.5 L468.5 175.9 L476.2 166.2 L483.9 162.4 L491.6 160.5 L499.3 157.6 L507 155.7 L514.7 155.1 L522.4 157.6 L530.1 156.6 L535.9 154.7 L541.7 158.5 L547.5 166.2 L551.3 174.9 L555.2 181.6 L560.9 186.5 L565.8 187.4 L567.7 181.6 L567.7 174.9 M71 219 L80.1 217.5 L82.6 222.5 L75.1 226.3 L71 229 M371.4 99.3 L377.4 102.8 L374.8 107.1 L368.8 108 L361.8 108.8 L355.8 108.8 L353.2 106.2 L358 103.5 M355.9 365.4 L352 357.7 L354.9 354.9 L361.6 352 L367.4 350 L370.3 352.9 L365.5 357.7 L361.6 359.7 L357.8 361.6 Z M377.7 253.9 L379.3 258.5 L382.4 259.3 L383.9 255.5 L387.8 251.6 L393.9 247 L400.1 242.4 L406.2 239.3 L412.4 238.5 L414.7 234.7 L415.5 229.3 L413.9 223.9 L411.6 220 L408.5 220 L403.9 223.1 L398.5 226.2 L392.4 229.3 L387 230.8 L384.7 233.1 L387.8 234.7 L389.3 239.3 L387 243.9 L383.9 248.5 L380.8 252.4 Z M440.2 410.7 L446 405.9 L450.8 406.8 L455.6 407.3 L457.5 410.2 L457.1 415 L459.5 419.8 L462.3 424.6 L466.2 428.5 L467.6 433.3 L467.6 439.1 L465.2 440.5 L461.4 437.2 L457.5 433.3 L453.7 429.5 L449.8 423.7 L447.4 417.9 L445 414.1 Z M485 429.5 L487.4 428.5 L491.2 430.9 L496 435.2 L500.8 440 L504.7 444.9 L506.1 449.2 L503.7 450.6 L499.9 447.7 L495.1 442.9 L489.3 438.1 L485.9 433.8 Z M157.5 651.2 L161.1 648.5 L166.5 647.6 L171.9 644 L175.4 637.7 L177.2 631.4 L180.8 627.8 L185.3 628.7 L186.2 634.1 L184.4 641.3 L180.8 648.5 L177.2 653.9 L171.9 655.7 L167.4 659.3 L164.7 663.8 L161.1 662 L159.3 657.5 Z M185.3 629.6 L188 625.1 L191.6 622.5 L194.3 624.3 L193.4 629.6 L190.7 633.2 L187.1 633.2 Z M144.9 682.6 L148.5 680.8 L151.2 683.5 L150.3 689.8 L148.5 697 L144.9 698.8 L142.2 695.2 L143.1 688.9 Z M129.6 718.6 L132.3 716.8 L133.2 719.5 L129.6 724 L126 725.7 L124.2 723 L126.9 720.7 Z M170.5 622.5 L169.7 624.1 L167.9 624.7 L166.1 624.1 L165.3 622.5 L166.1 620.9 L167.9 620.3 L169.7 620.9 Z M152.7 654.2 L152.5 654.6 L152.1 654.8 L151.7 654.6 L151.5 654.2 L151.7 653.8 L152.1 653.6 L152.5 653.8 Z M139.5 674.5 L139 676.2 L137.7 676.9 L136.4 676.2 L135.9 674.5 L136.4 672.8 L137.7 672.1 L139 672.8 Z M141.9 705.1 L141.3 706.4 L139.9 706.9 L138.5 706.4 L137.9 705.1 L138.5 703.8 L139.9 703.3 L141.3 703.8 Z M169.3 216.3 L168.8 217.1 L167.7 217.5 L166.6 217.1 L166.1 216.3 L166.6 215.5 L167.7 215.1 L168.8 215.5 Z" fill="none" stroke="#000" stroke-width="5.2" stroke-linejoin="round" stroke-linecap="round"/>
<path d="M72.6 238.8 L77.6 235 L82.6 231.3 L87.6 233.8 L95.1 236.3 L100.1 228.8 L110.1 220 L118.9 220 L125.1 228.8 L130.1 227.5 L135.1 223.8 L142.6 221.3 L150.2 225 L157.7 223.8 L158.9 217.5 L155.2 211.3 L147.6 206.3 L140.1 205 L136.4 211.3 L130.1 207.5 L128.9 202.5 L132.6 195 L130.1 190.2 L136.4 180.2 L140.1 178.9 L145.1 172.7 L152.7 165.2 L162.7 158.9 L172.7 152.7 L177.7 148.9 L176.4 140.1 L182.7 135.1 L190.2 128.9 L197.7 126.4 L196.4 117.6 L197.7 110.1 L205.2 107.6 L207.7 103.9 L215.2 101.4 L220.2 97.6 L227.7 98.8 L235.2 101.4 L240.2 96.3 L247.7 96.3 L255.3 95.1 L262 93 L270 95.8 L275.2 99.3 L276.1 104.5 L282.1 102.8 L287.3 97.6 L290.8 92.4 L296 89.8 L299.5 94.1 L298.6 102.8 L294.3 109.7 L289.9 116.6 L283.9 121.8 L283 127 L289.1 132.2 L287.3 137.4 L281.3 140 L285.6 135.7 L292.5 134 L298.6 134 L297.7 140.9 L293.4 146.1 L292.5 154.7 L294.3 156.5 L299.5 151.3 L304.7 149.5 L310.7 147.8 L320.2 132.2 L325.4 127 L330.6 121.8 L335.8 116.6 L341 113.2 L346.2 108 L351.4 103.6 L358.4 101 L365.3 100.2 L371.4 99.3 L373.1 90.6 L372.2 82 L373.9 76.8 L378.3 72.4 L373.9 69.8 L373.1 64.7 L377.4 61.2 L384.3 59.5 L391.3 58.6 L396.5 55.1 L405.1 54.3 L411.2 55.1 L415.5 59.5 L422.5 62.1 L430.3 64.7 L429.4 69 L423.3 70.7 L417.3 67.2 L410.3 65.5 L403.4 69 L399.1 73.3 L397.3 80.2 L397.3 88.9 L395.6 95.8 L393.9 102.8 L389.5 108 L387.8 114.9 L393 118.4 L393.9 125.3 L389.5 130.5 L384.3 134 L380.9 137.4 L384.3 140 L389.5 139.1 L387.8 143.5 L380.9 144.3 L374 146.1 L368.8 149.5 L361.8 151.3 L356.6 154.7 L349.7 158.2 L342.8 161.7 L339.3 165 L337.7 167.5 L332.7 175 L325.2 182.6 L317.7 190.1 L310.2 197.6 L302.7 202.6 L297.7 207.6 L290.2 215.1 L282.7 222.6 L280.2 230.1 L275.1 240.1 L267.6 250.1 L260.1 257.6 L252.6 265.1 L242.6 272.6 L235.1 277.6 L227.6 280.2 L222.6 278.9 L217.6 285.2 L210.1 287.7 L205.1 285.2 L201.3 290.2 L203.8 295.2 L206.3 302.7 L203.8 310.2 L200.1 317.7 L195.1 325 L190.2 330.2 L182.7 336.4 L178.9 342.7 L176.4 355.2 L173.9 365.2 L172 375 L169.3 390 L168 405 L168.9 420.1 L171 435.1 L173.9 455.1 L176.4 470.1 L178.9 485.1 L181.4 505.1 L183.9 522.7 L186.4 535.2 L188.9 552.5 L191.4 565 L192.7 577.5 L193.9 590.1 L195.2 600.1 L198.9 607.6 L200.2 615.1 L197.7 622.5 L200.6 618 L206 612.6 L212.7 607.6 L220.2 598.8 L225.2 592.6 L232.7 585 L234.7 580 L238.5 569.9 L241.1 563.4 L243.6 557 L245.6 551.9 L244.9 546.8 L243.6 541.6 L244.3 536.5 L246.2 531.3 L248.1 527.5 L251.3 524.9 L250 522.4 L244.9 522.4 L243.6 518.5 L246.2 516.6 L250 517.2 L252.6 519.8 L253.9 522.4 L256.5 519.8 L260.3 515.9 L265.5 513.4 L271.9 510.8 L277 508.2 L280.9 507.6 L283.4 510.8 L287.3 514.7 L288.6 512.1 L287.3 507 L286 501.8 L283.4 496.7 L282.7 487.7 L282.7 478.1 L284.6 468.5 L288.5 460.8 L294.3 453.1 L302 447.3 L309.7 443.5 L317.4 443.5 L321.2 448.3 L327 448.3 L332.8 447.3 L336.6 443.5 L341.4 438.7 L344.3 432.8 L340.5 425.1 L336.6 415.5 L334.7 405.9 L334.3 396.2 L336.6 386.6 L340.5 377 L344.3 371.2 L350.1 367.4 L355.9 365.4 L359.7 367.4 L361.6 373.1 L367.4 376 L371.3 373.1 L375.1 367.4 L378 361.6 L377 353.9 L376.1 346.2 L375.1 341.4 L369.3 340.4 L364.5 341.4 L361.6 336.6 L362 328.9 L362.6 320.1 L362.6 310.1 L367.6 302.6 L373.9 296.4 L375.1 290.1 L370.1 286.4 L362.6 282.6 L356.4 282.6 L353.9 288.9 L347.6 288.9 L342.6 283.9 L340.1 275.1 L340.8 271.6 L343.1 262.4 L346.9 253.2 L352.3 245.5 L359.3 239.3 L364.7 234.7 L369.3 232.4 L366.2 229.3 L364.7 225.4 L367.7 221.6 L373.1 220 L377 220.8 L377.7 216.2 L375.4 210 L373.1 206.2 L374.7 201.6 L377.7 197.7 L378.5 193.1 L381.6 189.2 L387.8 186.2 L392.4 183.1 L397 183.1 L400.1 186.2 L397 189.2 L397.8 191.6 L400.1 190 L401.6 184.6 L403.9 180 L407.8 179.2 L410.9 183.1 L413.2 188.5 L416.2 193.1 L420.1 191.6 L423.9 186.9 L426.3 183.1 L422.4 180.8 L424.7 177.7 L430.9 176.2 L437.7 173 L447.4 165.3 L455.1 162.4 L458 164.3 L456 172 L453.1 181.6 L451.2 191.3 L454.1 193.2 L460.8 185.5 L468.5 175.9 L476.2 166.2 L483.9 162.4 L491.6 160.5 L499.3 157.6 L507 155.7 L514.7 155.1 L522.4 157.6 L530.1 156.6 L535.9 154.7 L541.7 158.5 L547.5 166.2 L551.3 174.9 L555.2 181.6 L560.9 186.5 L565.8 187.4 L567.7 181.6 L567.7 174.9 M71 219 L80.1 217.5 L82.6 222.5 L75.1 226.3 L71 229 M371.4 99.3 L377.4 102.8 L374.8 107.1 L368.8 108 L361.8 108.8 L355.8 108.8 L353.2 106.2 L358 103.5 M355.9 365.4 L352 357.7 L354.9 354.9 L361.6 352 L367.4 350 L370.3 352.9 L365.5 357.7 L361.6 359.7 L357.8 361.6 Z M377.7 253.9 L379.3 258.5 L382.4 259.3 L383.9 255.5 L387.8 251.6 L393.9 247 L400.1 242.4 L406.2 239.3 L412.4 238.5 L414.7 234.7 L415.5 229.3 L413.9 223.9 L411.6 220 L408.5 220 L403.9 223.1 L398.5 226.2 L392.4 229.3 L387 230.8 L384.7 233.1 L387.8 234.7 L389.3 239.3 L387 243.9 L383.9 248.5 L380.8 252.4 Z M440.2 410.7 L446 405.9 L450.8 406.8 L455.6 407.3 L457.5 410.2 L457.1 415 L459.5 419.8 L462.3 424.6 L466.2 428.5 L467.6 433.3 L467.6 439.1 L465.2 440.5 L461.4 437.2 L457.5 433.3 L453.7 429.5 L449.8 423.7 L447.4 417.9 L445 414.1 Z M485 429.5 L487.4 428.5 L491.2 430.9 L496 435.2 L500.8 440 L504.7 444.9 L506.1 449.2 L503.7 450.6 L499.9 447.7 L495.1 442.9 L489.3 438.1 L485.9 433.8 Z M157.5 651.2 L161.1 648.5 L166.5 647.6 L171.9 644 L175.4 637.7 L177.2 631.4 L180.8 627.8 L185.3 628.7 L186.2 634.1 L184.4 641.3 L180.8 648.5 L177.2 653.9 L171.9 655.7 L167.4 659.3 L164.7 663.8 L161.1 662 L159.3 657.5 Z M185.3 629.6 L188 625.1 L191.6 622.5 L194.3 624.3 L193.4 629.6 L190.7 633.2 L187.1 633.2 Z M144.9 682.6 L148.5 680.8 L151.2 683.5 L150.3 689.8 L148.5 697 L144.9 698.8 L142.2 695.2 L143.1 688.9 Z M129.6 718.6 L132.3 716.8 L133.2 719.5 L129.6 724 L126 725.7 L124.2 723 L126.9 720.7 Z M170.5 622.5 L169.7 624.1 L167.9 624.7 L166.1 624.1 L165.3 622.5 L166.1 620.9 L167.9 620.3 L169.7 620.9 Z M152.7 654.2 L152.5 654.6 L152.1 654.8 L151.7 654.6 L151.5 654.2 L151.7 653.8 L152.1 653.6 L152.5 653.8 Z M139.5 674.5 L139 676.2 L137.7 676.9 L136.4 676.2 L135.9 674.5 L136.4 672.8 L137.7 672.1 L139 672.8 Z M141.9 705.1 L141.3 706.4 L139.9 706.9 L138.5 706.4 L137.9 705.1 L138.5 703.8 L139.9 703.3 L141.3 703.8 Z M169.3 216.3 L168.8 217.1 L167.7 217.5 L166.6 217.1 L166.1 216.3 L166.6 215.5 L167.7 215.1 L168.8 215.5 Z" fill="none" stroke="#fff" stroke-width="2.1" stroke-linejoin="round" stroke-linecap="round"/>
<polygon points="367.6,40.0 662.8,40.0 662.8,376.0 609.1,376.0 609.1,712.0 99.3,712.0 99.3,280.0 206.6,280.0 206.6,232.0 260.3,232.0 260.3,184.0 314.0,184.0 314.0,136.0 367.6,136.0" fill="none" stroke="#9900cc" stroke-width="7" transform="translate(0,0.3)" stroke-linejoin="round"/>
<ellipse cx="555.6" cy="280.3" rx="31.7" ry="30.1" fill="none" stroke="#000" stroke-width="1.9"/>
<text class="ttl" x="517" y="249" font-size="21.3">R=70km</text>
</g>
<g stroke="#000" stroke-width="1.9" fill="none">
<line x1="72.5" y1="14" x2="72.5" y2="736.7"/>
<line x1="72.5" y1="735.8" x2="690.2" y2="735.8"/>
<line x1="67" y1="712.0" x2="72.5" y2="712.0"/>
<line x1="67" y1="664.0" x2="72.5" y2="664.0"/>
<line x1="62" y1="616.0" x2="72.5" y2="616.0"/>
<line x1="67" y1="568.0" x2="72.5" y2="568.0"/>
<line x1="67" y1="520.0" x2="72.5" y2="520.0"/>
<line x1="62" y1="472.0" x2="72.5" y2="472.0"/>
<line x1="67" y1="424.0" x2="72.5" y2="424.0"/>
<line x1="67" y1="376.0" x2="72.5" y2="376.0"/>
<line x1="62" y1="328.0" x2="72.5" y2="328.0"/>
<line x1="67" y1="280.0" x2="72.5" y2="280.0"/>
<line x1="67" y1="232.0" x2="72.5" y2="232.0"/>
<line x1="62" y1="184.0" x2="72.5" y2="184.0"/>
<line x1="67" y1="136.0" x2="72.5" y2="136.0"/>
<line x1="67" y1="88.0" x2="72.5" y2="88.0"/>
<line x1="62" y1="40.0" x2="72.5" y2="40.0"/>
<line x1="72.5" y1="735.5" x2="72.5" y2="741.6"/>
<line x1="99.3" y1="735.5" x2="99.3" y2="741.6"/>
<line x1="126.2" y1="735.5" x2="126.2" y2="741.6"/>
<line x1="153.0" y1="735.5" x2="153.0" y2="746.3"/>
<line x1="179.8" y1="735.5" x2="179.8" y2="741.6"/>
<line x1="206.6" y1="735.5" x2="206.6" y2="741.6"/>
<line x1="233.5" y1="735.5" x2="233.5" y2="741.6"/>
<line x1="260.3" y1="735.5" x2="260.3" y2="741.6"/>
<line x1="287.1" y1="735.5" x2="287.1" y2="746.3"/>
<line x1="314.0" y1="735.5" x2="314.0" y2="741.6"/>
<line x1="340.8" y1="735.5" x2="340.8" y2="741.6"/>
<line x1="367.6" y1="735.5" x2="367.6" y2="741.6"/>
<line x1="394.5" y1="735.5" x2="394.5" y2="741.6"/>
<line x1="421.3" y1="735.5" x2="421.3" y2="746.3"/>
<line x1="448.1" y1="735.5" x2="448.1" y2="741.6"/>
<line x1="474.9" y1="735.5" x2="474.9" y2="741.6"/>
<line x1="501.8" y1="735.5" x2="501.8" y2="741.6"/>
<line x1="528.6" y1="735.5" x2="528.6" y2="741.6"/>
<line x1="555.4" y1="735.5" x2="555.4" y2="746.3"/>
<line x1="582.3" y1="735.5" x2="582.3" y2="741.6"/>
<line x1="609.1" y1="735.5" x2="609.1" y2="741.6"/>
<line x1="635.9" y1="735.5" x2="635.9" y2="741.6"/>
<line x1="662.8" y1="735.5" x2="662.8" y2="741.6"/>
<line x1="689.6" y1="735.5" x2="689.6" y2="746.3"/>
</g>
<g stroke="#000" stroke-width="1.9" fill="none">
<line x1="71.55" y1="14.4" x2="690.45" y2="14.4"/>
<line x1="689.5" y1="14" x2="689.5" y2="736.7"/>
</g>
<g class="tk"><text x="52.6" y="44.8" text-anchor="end">63</text><text x="52.6" y="188.8" text-anchor="end">60</text><text x="52.6" y="332.8" text-anchor="end">57</text><text x="52.6" y="476.8" text-anchor="end">54</text><text x="52.6" y="620.8" text-anchor="end">51</text><text x="153.0" y="767" text-anchor="middle">155</text><text x="287.1" y="767" text-anchor="middle">160</text><text x="421.3" y="767" text-anchor="middle">165</text><text x="555.4" y="767" text-anchor="middle">170</text><text x="689.6" y="767" text-anchor="middle">175</text></g>
<text class="ttl" x="711.5" y="53.4" font-size="53">2025-10-15</text>
<text class="ttl" x="709" y="109" font-size="42">R70</text>
<text class="ttl" x="709" y="163" font-size="39.8">dT=7 days</text>
<text x="699" y="246.3" font-size="32">Уровень сейсмичности</text>
<text x="699" y="281.8" font-size="32">по шкале СОУС'09</text>
<g class="lg"><circle cx="781.5" cy="336.40000000000003" r="18.8" fill="#0000ff" stroke="#000" stroke-width="1"/><text x="819" y="329.8">экстремально</text><text x="819" y="356.2">высокий</text><circle cx="781.5" cy="404.8" r="18.8" fill="#00ccff" stroke="#000" stroke-width="1"/><text x="819" y="411.2">высокий</text><circle cx="781.5" cy="472.6" r="18.8" fill="#99ffff" stroke="#000" stroke-width="1"/><text x="819" y="464.8">фоновый</text><text x="819" y="491.2">повышенный</text><circle cx="781.5" cy="539.8000000000001" r="18.8" fill="#33cc66" stroke="#000" stroke-width="1"/><text x="819" y="535.1">фоновый</text><text x="819" y="561.5">средний</text><circle cx="781.5" cy="608.9" r="18.8" fill="#ffff00" stroke="#000" stroke-width="1"/><text x="819" y="605.5">фоновый</text><text x="819" y="631.9">пониженный</text><circle cx="781.5" cy="675.4" r="18.8" fill="#ff6600" stroke="#000" stroke-width="1"/><text x="819" y="682.5">низкий</text><circle cx="781.5" cy="742.6" r="18.8" fill="#ff0000" stroke="#000" stroke-width="1"/><text x="819" y="736.6">экстремально</text><text x="819" y="763.0">низкий</text></g>
</svg>
</body></html>
